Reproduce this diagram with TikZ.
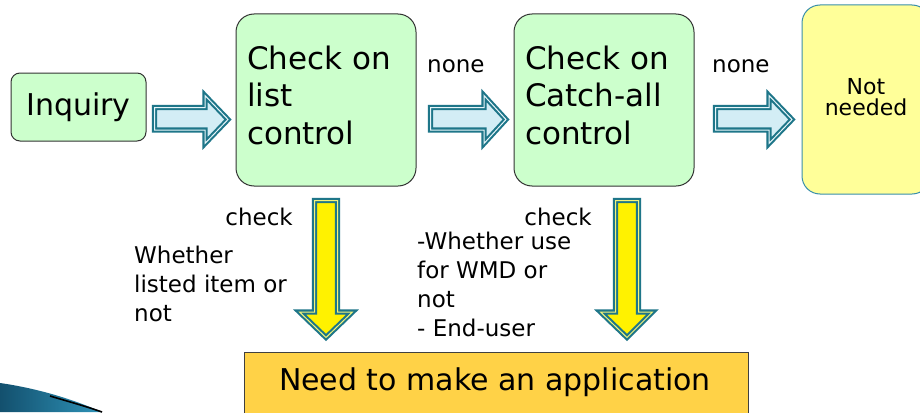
\documentclass[tikz,border=0pt]{standalone}
\usepackage{fontspec}
\setmainfont{DejaVu Sans}
\definecolor{boxgreen}{HTML}{CCFFCC}
\definecolor{arrteal}{HTML}{1E7689}
\definecolor{arrfill}{HTML}{D3EDF5}
\definecolor{arrlight}{HTML}{E8F6FA}
\definecolor{yellowline}{HTML}{F4F47A}
\definecolor{paleyellow}{HTML}{FFFF99}
\definecolor{nnborder}{HTML}{3A8FAA}
\definecolor{apporange}{HTML}{FFD247}
\definecolor{swdark}{HTML}{13506E}
\definecolor{swlight}{HTML}{2E93B8}
\begin{document}
\begin{tikzpicture}[x=1pt,y=-1pt,
  greenbox/.style={draw=black!80, line width=1pt, fill=boxgreen, rounded corners=18pt,
    inner xsep=11pt, inner ysep=0pt, text width=158pt, minimum height=172pt, align=left,
    text depth=85pt, font=\fontsize{31}{37.5}\selectfont},
  smallbox/.style={draw=black!80, line width=1pt, fill=boxgreen, rounded corners=9pt,
    minimum width=135pt, minimum height=68pt, inner sep=0pt, font=\fontsize{30}{36}\selectfont},
  harrow/.style={draw=arrteal, line width=2.1pt, double=arrlight, double distance=1pt,
    fill=arrfill, line join=miter},
  varrow/.style={draw=arrteal, line width=2.1pt, double=yellowline, double distance=1pt,
    fill=yellow, line join=miter},
  lbl/.style={inner sep=0pt, font=\fontsize{23}{28}\selectfont},
  note/.style={inner sep=0pt, align=left, anchor=north west, font=\fontsize{23}{29}\selectfont},
]
\clip (0,0) rectangle (920,412);
\fill[white] (0,0) rectangle (920,412);

% boxes
\node[smallbox] (inq) at (78.5,107) {Inquiry};
\node[greenbox] (list) at (326,100) {Check on\\list\\control};
\node[greenbox] (catch) at (604,100) {Check on\\Catch-all\\control};
\node[draw=nnborder, line width=1pt, fill=paleyellow, rounded corners=18pt,
  minimum width=128pt, minimum height=189pt, align=center, inner sep=0pt,
  text depth=6pt, font=\fontsize{22}{21}\selectfont] (nn) at (866,99.5) {Not\\needed};
\node[draw=black!75, line width=1pt, fill=apporange, minimum width=504pt,
  minimum height=74pt, inner sep=0pt] (app) at (496,389) {};
\node[anchor=base, inner sep=0pt, font=\fontsize{30}{36}\selectfont] (apptext) at (495,390) {Need to make an application};

% horizontal block arrows
\draw[harrow] (154.5,107.5) -- (205,107.5) -- (205,95.5) -- (228,119.5) -- (205,143.5) -- (205,130) -- (154.5,130) -- cycle;
\draw[harrow] (430.5,107.5) -- (484,107.5) -- (484,95.5) -- (506,119.5) -- (484,143.5) -- (484,130) -- (430.5,130) -- cycle;
\draw[harrow] (715.5,107.5) -- (769,107.5) -- (769,95.5) -- (792,119.5) -- (769,143.5) -- (769,130) -- (715.5,130) -- cycle;

% vertical block arrows
\draw[varrow] (314.5,200.5) -- (337.5,200.5) -- (337.5,312) -- (352.5,312) -- (326,337.5) -- (299.5,312) -- (314.5,312) -- cycle;
\draw[varrow] (615.5,200.5) -- (638.5,200.5) -- (638.5,312) -- (652.5,312) -- (627,337.5) -- (600.5,312) -- (615.5,312) -- cycle;

% labels
\node[lbl, anchor=base west] (none1) at (427,73) {none};
\node[lbl, anchor=base west] (none2) at (712,73) {none};
\node[lbl, anchor=base east] (check1) at (293,225) {check};
\node[lbl, anchor=base east] (check2) at (592,225) {check};
\node[note] (n1) at (134,246) {Whether\\listed item or\\not};
\node[note] (n2) at (417,232) {-Whether use\\for WMD or\\not\\- End-user};

% decorative swoosh
\shade[left color=swdark, right color=swlight] (0,383) .. controls (35,388) and (70,398) .. (102,412) -- (0,412) -- cycle;
\draw[black, line width=1.6pt] (50,396) .. controls (70,402) and (85,406) .. (102,412);
\end{tikzpicture}
\end{document}
